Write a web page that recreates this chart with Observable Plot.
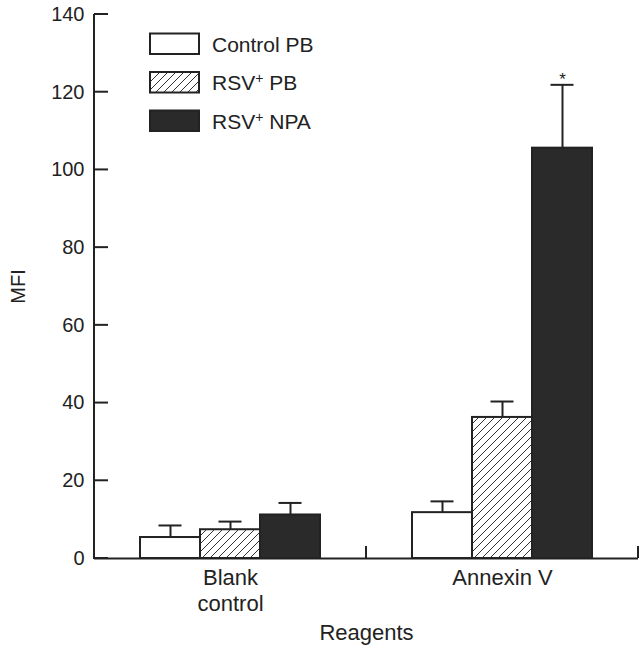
<!DOCTYPE html>
<html><head><meta charset="utf-8">
<script src="https://cdn.jsdelivr.net/npm/d3@7"></script>
<script src="https://cdn.jsdelivr.net/npm/@observablehq/plot@0.6"></script>
<style>
body{margin:0;background:#fff}
#chart{width:643px;height:656px}
</style>
</head><body><div id="chart"></div>
<script>
// ---- data ----
const groups = ["Blank control", "Annexin V"];
const series = ["Control PB", "RSV+ PB", "RSV+ NPA"];
const blankMeans = [5.4, 7.4, 11.2];
const blankSem = [3.1, 2.1, 3.1];
const annexinMeans = [11.8, 36.3, 105.6];
const annexinSem = [2.9, 4.1, 16.3];
const significant = [["Annexin V", "RSV+ NPA"]];
const yTicks = [0, 20, 40, 60, 80, 100, 120, 140];
const colors = ["white", "url(#hatch)", "#2a2a2a"];

const means = [blankMeans, annexinMeans];
const sems = [blankSem, annexinSem];
const data = [];
groups.forEach((g, gi) => series.forEach((s, si) => data.push({
  group: g, series: s, mean: means[gi][si], top: means[gi][si] + sems[gi][si]
})));
const stars = data.filter(d => significant.some(([g, s]) => g === d.group && s === d.series));

const ink = "#222";
const plot = Plot.plot({
  width: 643, height: 656,
  marginLeft: 94, marginRight: 5, marginTop: 14, marginBottom: 98,
  style: {fontFamily: "'Liberation Sans', Arial, sans-serif", fontSize: "20px", color: ink, background: "white", overflow: "visible"},
  fx: {domain: groups, padding: 0, label: "Reagents"},
  x: {domain: series, paddingInner: 0, paddingOuter: 0.73, axis: null},
  y: {domain: [0, 140], axis: null},
  color: {domain: series, range: colors},
  marks: [
    Plot.axisY({ticks: yTicks, tickSize: 0, tickPadding: 10, label: "MFI", labelAnchor: "center", labelArrow: "none", labelOffset: 84, fontSize: 20}),
    Plot.axisFx({anchor: "bottom", tickSize: 0, tickPadding: 9, fontSize: 22, lineHeight: 1.15,
      tickFormat: d => d === "Blank control" ? "Blank\ncontrol" : d,
      label: "Reagents", labelAnchor: "center", labelArrow: "none", labelOffset: 81}),
    Plot.barY(data, {fx: "group", x: "series", y: "mean", fill: "series", stroke: ink, strokeWidth: 2, inset: 0}),
    Plot.ruleX(data, {fx: "group", x: "series", y1: "mean", y2: "top", stroke: ink, strokeWidth: 2}),
    Plot.tickY(data, {fx: "group", x: "series", y: "top", stroke: ink, strokeWidth: 2, insetLeft: 18.5, insetRight: 18.5}),
    Plot.ruleY([0], {stroke: ink, strokeWidth: 2}),
    Plot.text(stars, {fx: "group", x: "series", y: "top", text: () => "*", lineAnchor: "bottom", dy: 0, fontSize: 17, fill: ink})
  ]
});

const svg = d3.select(plot);
// hatch pattern
const defs = svg.insert("defs", ":first-child");
const pat = defs.append("pattern").attr("id", "hatch").attr("patternUnits", "userSpaceOnUse")
  .attr("width", 8).attr("height", 8);
pat.append("rect").attr("width", 8).attr("height", 8).attr("fill", "white");
pat.append("path").attr("d", "M-2,2 L2,-2 M0,8 L8,0 M6,10 L10,6").attr("stroke", "#333").attr("stroke-width", 1);

const y = plot.scale("y"), fx = plot.scale("fx"), color = plot.scale("color");
const x0 = fx.range[0];
const y0 = y.apply(0);
const axes = svg.append("g").attr("stroke", ink).attr("stroke-width", 2).attr("fill", "none");
// y axis line + inward ticks
axes.append("line").attr("x1", x0).attr("x2", x0).attr("y1", y0 + 1).attr("y2", y.apply(140));
yTicks.forEach(t => axes.append("line").attr("x1", x0).attr("x2", x0 + 14).attr("y1", y.apply(t)).attr("y2", y.apply(t)));
// x boundary ticks
groups.forEach(g => {
  const xb = fx.apply(g) + fx.bandwidth;
  axes.append("line").attr("x1", xb).attr("x2", xb).attr("y1", y0).attr("y2", y0 - 12);
});

// legend
const lg = svg.append("g").attr("font-size", 21).attr("fill", ink).attr("text-anchor", "start");
series.forEach((s, i) => {
  const ty = 33.5 + i * 38.5;
  lg.append("rect").attr("x", 150).attr("y", ty).attr("width", 49).attr("height", 20.5)
    .attr("fill", color.apply(s)).attr("stroke", ink).attr("stroke-width", 2);
  const t = lg.append("text").attr("x", 212).attr("y", ty + 18);
  const parts = s.split("+");
  t.append("tspan").text(parts[0]);
  if (parts.length > 1) {
    t.append("tspan").attr("dy", -7).attr("font-size", 14).text("+");
    t.append("tspan").attr("dy", 7).text(parts[1]);
  }
});

document.getElementById("chart").append(plot);
</script>
</body></html>
